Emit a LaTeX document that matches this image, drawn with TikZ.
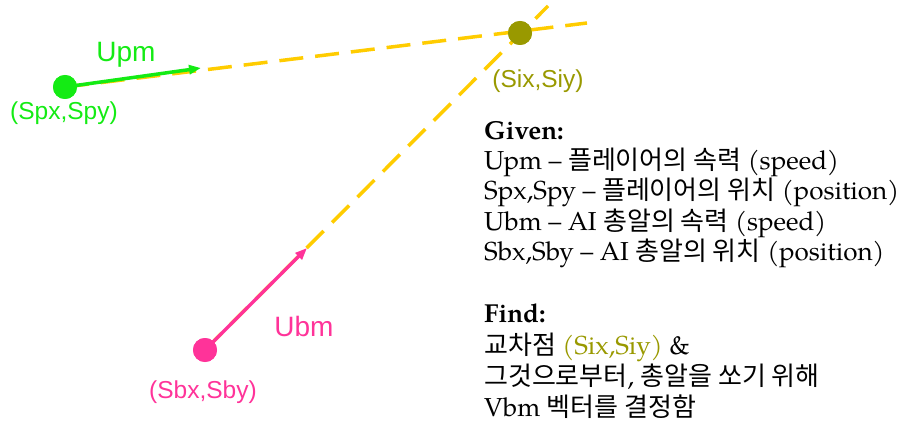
\documentclass[tikz,border=0pt]{standalone}
\usepackage{fontspec}
\setmainfont{TeX Gyre Pagella}
\newfontfamily\labelfont{Liberation Sans}
\newfontfamily\kr{Noto Sans CJK KR}
\usetikzlibrary{arrows.meta}
\definecolor{pgreen}{RGB}{20,235,20}
\definecolor{bpink}{RGB}{255,51,153}
\definecolor{iolive}{RGB}{153,153,0}
\definecolor{lgold}{RGB}{255,204,0}
\begin{document}
\begin{tikzpicture}[x=1pt,y=-1pt,
  dotnode/.style={circle,inner sep=0pt,minimum size=24pt},
  guide/.style={draw=lgold,line width=3.5pt,dash pattern=on 24pt off 12pt},
  vec/.style={line width=3.5pt,-{Triangle[length=12pt,width=9pt]}},
  lbl/.style={font=\labelfont\fontsize{24.5}{28}\selectfont},
  biglbl/.style={font=\labelfont\fontsize{28}{32}\selectfont},
  txt/.style={anchor=base west,inner sep=0pt,font=\fontsize{26}{30}\selectfont}]
\useasboundingbox (0,0) rectangle (908,422);
% dots
\node[dotnode,fill=pgreen] (sp) at (65,87) {};
\node[dotnode,fill=bpink] (sb) at (205,350) {};
\node[dotnode,fill=iolive] (si) at (520,33) {};
\coordinate (pend) at (587,23);
\coordinate (bend) at (548,6);
\coordinate (ptip) at (201,68);
\coordinate (btip) at (307,248);
% guide lines
\draw[guide] (sp.center) -- (pend);
\draw[guide] (sb.center) -- (bend);
% vectors
\draw[vec,draw=pgreen,fill=pgreen] (sp.center) -- (ptip);
\draw[vec,draw=bpink,fill=bpink] (sb.center) -- (btip);
% redraw dots on top
\node[dotnode,fill=pgreen] at (sp) {};
\node[dotnode,fill=bpink] at (sb) {};
\node[dotnode,fill=iolive] at (si) {};
% labels
\node[biglbl,text=pgreen] (upm) at (126,55) {Upm};
\node[lbl,text=pgreen] (spl) at (64,113) {(Spx,Spy)};
\node[lbl,text=iolive] (sil) at (538,81) {(Six,Siy)};
\node[biglbl,text=bpink] (ubm) at (304,326) {Ubm};
\node[lbl,text=bpink] (sbl) at (203,392) {(Sbx,Sby)};
% text block
\node[txt] (g0) at (484,140) {\textbf{Given:}};
\node[txt] (g1) at (484,170) {Upm – {\kr 플레이어의 속력} (speed)};
\node[txt] (g2) at (484,200) {Spx,Spy – {\kr 플레이어의 위치} (position)};
\node[txt] (g3) at (484,231) {Ubm – AI {\kr 총알의 속력} (speed)};
\node[txt] (g4) at (484,261) {Sbx,Sby – AI {\kr 총알의 위치} (position)};
\node[txt] (f0) at (484,323) {\textbf{Find:}};
\node[txt] (f1) at (484,354) {{\kr 교차점} \textcolor{iolive}{(Six,Siy)} \&};
\node[txt] (f2) at (484,385) {{\kr 그것으로부터}, {\kr 총알을 쏘기 위해}};
\node[txt] (f3) at (484,416) {Vbm {\kr 벡터를 결정함}};
\end{tikzpicture}
\end{document}
